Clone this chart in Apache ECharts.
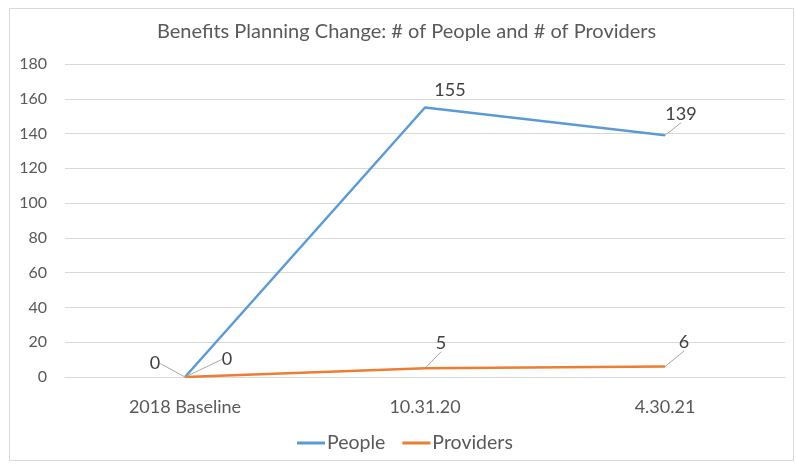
<!DOCTYPE html>
<html>
<head>
<meta charset="utf-8">
<script src="https://cdn.jsdelivr.net/npm/echarts@6/dist/echarts.min.js"></script>
<style>html,body{margin:0;padding:0;background:#fff}#c{width:796px;height:466px}</style>
</head>
<body>
<div id="c"></div>
<script>
const categories = ['2018 Baseline', '10.31.20', '4.30.21'];
const people = [0, 155, 139];
const providers = [0, 5, 6];
const yTicks = [0, 20, 40, 60, 80, 100, 120, 140, 160, 180];

// label offsets (dx, dy) relative to default "top" label position
const peopleOffsets = [[-30, 1], [25, -3], [16, -7]];
const providerOffsets = [[42, -3], [16, -11], [19, -10]];
// which labels show a leader line
const peopleLeader = [true, false, true];
const providerLeader = [true, true, true];

const font = 'Lato, "Open Sans", sans-serif';
const chart = echarts.init(document.getElementById('c'), null, {renderer: 'canvas'});
chart.setOption({
  animation: false,
  textStyle: {fontFamily: font},
  title: {
    text: 'Benefits Planning Change: # of People and # of Providers',
    left: 152, top: 17,
    textStyle: {fontFamily: font, fontSize: 20, fontWeight: 'normal', color: '#595959'}
  },
  graphic: [{
    type: 'rect', shape: {x: 9.5, y: 8.5, width: 784, height: 452},
    style: {fill: 'none', stroke: '#d9d9d9', lineWidth: 1}, silent: true, z: -1
  }],
  legend: {
    top: 433, left: 292, padding: [0, 5], itemWidth: 28, itemHeight: 3, itemGap: 17,
    icon: 'rect',
    textStyle: {fontFamily: font, fontSize: 19.5, color: '#595959', padding: [0, 0, 0, -3]},
    data: ['People', 'Providers']
  },
  grid: {left: 65, right: 11, top: 64, bottom: 89},
  xAxis: {
    type: 'category', data: categories, boundaryGap: true,
    axisLine: {show: true, lineStyle: {color: '#d9d9d9'}},
    axisTick: {show: false},
    axisLabel: {fontFamily: font, fontSize: 18, color: '#595959', margin: 21}
  },
  yAxis: {
    type: 'value', min: 0, max: 180, interval: 20,
    axisLine: {show: false}, axisTick: {show: false},
    splitLine: {lineStyle: {color: '#d9d9d9'}},
    axisLabel: {fontFamily: font, fontSize: 16, color: '#595959', margin: 18,
      formatter: v => yTicks.includes(v) ? String(v) : ''}
  },
  series: [
    {
      name: 'People', type: 'line',
      data: people.map((v, i) => ({value: v, labelLine: {show: peopleLeader[i]}})),
      symbol: 'circle', symbolSize: 1, showSymbol: true,
      itemStyle: {color: '#5B9BD5'},
      lineStyle: {color: '#5B9BD5', width: 2.5},
      label: {show: true, position: 'top', fontFamily: font, fontSize: 18, color: '#404040'},
      labelLine: {show: true, lineStyle: {color: '#a6a6a6', width: 1}},
      labelLayout: p => ({dx: peopleOffsets[p.dataIndex][0], dy: peopleOffsets[p.dataIndex][1]})
    },
    {
      name: 'Providers', type: 'line',
      data: providers.map((v, i) => ({value: v, labelLine: {show: providerLeader[i]}})),
      symbol: 'circle', symbolSize: 1, showSymbol: true,
      itemStyle: {color: '#ED7D31'},
      lineStyle: {color: '#ED7D31', width: 2.5},
      label: {show: true, position: 'top', fontFamily: font, fontSize: 18, color: '#404040'},
      labelLine: {show: true, lineStyle: {color: '#a6a6a6', width: 1}},
      labelLayout: p => ({dx: providerOffsets[p.dataIndex][0], dy: providerOffsets[p.dataIndex][1]})
    }
  ]
});
</script>
</body>
</html>
